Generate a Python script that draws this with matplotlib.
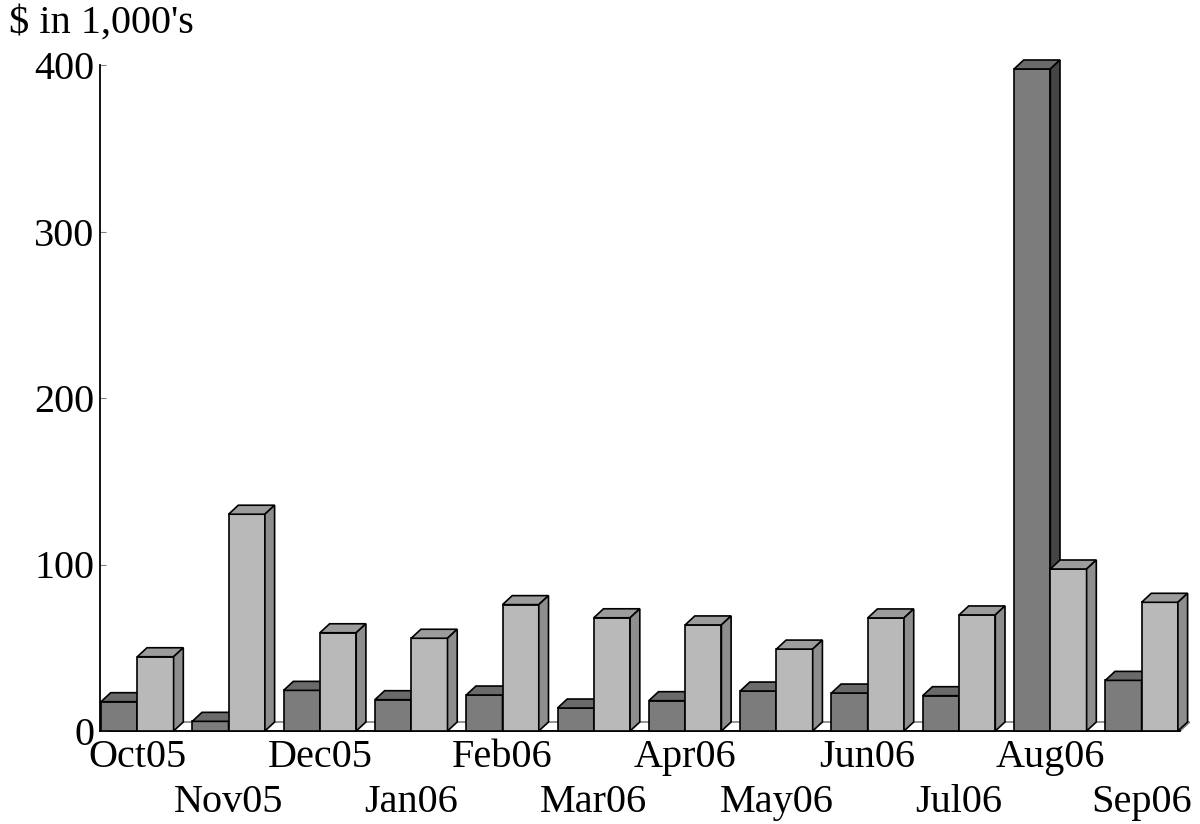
import matplotlib
matplotlib.use("Agg")
import matplotlib.pyplot as plt
from matplotlib.patches import Polygon
import numpy as np

months = ["Oct05", "Nov05", "Dec05", "Jan06", "Feb06", "Mar06",
          "Apr06", "May06", "Jun06", "Jul06", "Aug06", "Sep06"]
series_dark = [17.6, 5.8, 24.4, 18.8, 21.6, 13.8, 18.2, 24.0, 22.8, 21.2, 397.6, 30.4]
series_light = [44.6, 130.2, 59.0, 55.7, 75.9, 68.0, 63.7, 49.2, 67.9, 69.7, 97.3, 77.3]
y_ticks = [0, 100, 200, 300, 400]
y_title = "$ in 1,000's"

FONT = "Liberation Serif"
FS = 29

fig = plt.figure(figsize=(12, 8.24), dpi=100)
ax = fig.add_axes([100/1200, 93/824, 1100/1200, 666/824])
ax.set_xlim(0, 1100/91.3)
ax.set_ylim(0, 400)

bw = 36.3/91.3        # bar width in group units
off = 0.011           # offset of first bar from group start
dx = 9.7/91.3         # depth x
dy = 9.0/1.665        # depth y (data units)

# floor
x_end = 1080/91.3
floor = Polygon([(0, 0), (x_end, 0), (x_end + dx, dy), (dx, dy)], closed=True,
                facecolor="white", edgecolor="#808080", lw=1.2, zorder=1, clip_on=False)
ax.add_patch(floor)
ax.plot([0, x_end], [0, 0], color="black", lw=1.3, zorder=1.5, clip_on=False)

styles = [
    dict(front="#7c7c7c", top="#6a6a6a", side="#454545"),
    dict(front="#b9b9b9", top="#9c9c9c", side="#8e8e8e"),
]

idx = np.arange(len(months))
z = 2
for i in idx:
    for s, vals in enumerate([series_dark, series_light]):
        st = styles[s]
        x0 = i + off + s*bw
        h = vals[i]
        ax.bar([x0], [h], width=bw, align="edge", color=st["front"],
               edgecolor="black", linewidth=1.2, zorder=z, clip_on=False)
        top = Polygon([(x0, h), (x0 + bw, h), (x0 + bw + dx, h + dy), (x0 + dx, h + dy)],
                      closed=True, facecolor=st["top"], edgecolor="black", lw=1.2,
                      zorder=z, clip_on=False)
        side = Polygon([(x0 + bw, 0), (x0 + bw + dx, dy), (x0 + bw + dx, h + dy), (x0 + bw, h)],
                       closed=True, facecolor=st["side"], edgecolor="black", lw=1.2,
                       zorder=z, clip_on=False)
        ax.add_patch(top)
        ax.add_patch(side)
        z += 1

for sp in ["top", "right", "bottom"]:
    ax.spines[sp].set_visible(False)
ax.spines["left"].set_linewidth(1.3)
ax.spines["left"].set_zorder(100)
ax.set_xticks([])
ax.set_yticks(y_ticks)
ax.set_yticklabels([str(t) for t in y_ticks], fontsize=FS, family=FONT)
ax.tick_params(axis="y", direction="in", length=4, color="#808080", pad=4)

trans = ax.get_xaxis_transform()
for i, m in enumerate(months):
    cx = i + off + bw
    yb = -0.0536 if i % 2 == 0 else -0.1212
    ax.text(cx, yb, m, transform=trans, ha="center", va="baseline",
            fontsize=FS, family=FONT)

fig.text(9/1200, 1 - 33/824, y_title, ha="left", va="baseline",
         fontsize=FS, family=FONT)

fig.savefig("out.png", dpi=100)
